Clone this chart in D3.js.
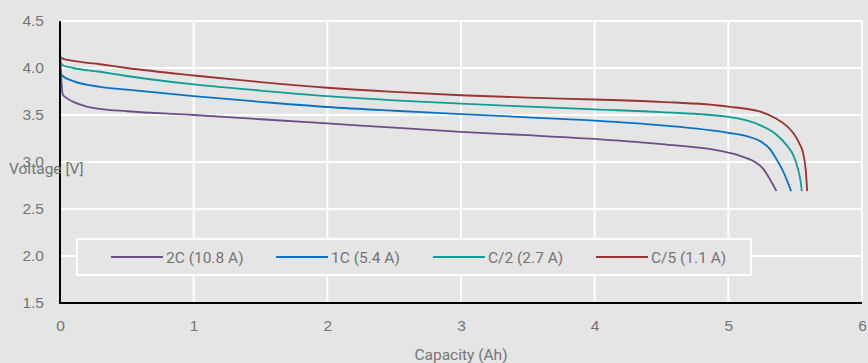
<!DOCTYPE html>
<html>
<head>
<meta charset="utf-8">
<script src="https://cdn.jsdelivr.net/npm/d3@7"></script>
<style>
  body { margin: 0; background: #e5e5e5; }
  svg { display: block; font-family: Roboto, "Noto Sans", sans-serif; }
  .tick-label { fill: #747474; font-size: 15.5px; }
  .axis-title { fill: #747474; font-size: 15.5px; }
  .legend-text { fill: #747474; font-size: 15.5px; }
</style>
</head>
<body>
<svg id="chart" width="868" height="363"></svg>
<script>
// series names and colours
const seriesNames = ["2C (10.8 A)", "1C (5.4 A)", "C/2 (2.7 A)", "C/5 (1.1 A)"];
const seriesColors = ["#6a4f88", "#0a72c6", "#0f9e97", "#9a3434"];

// capacity (Ah) and voltage (V)
const cap2C  = [0, 0.02, 0.05, 0.1, 0.2, 0.3, 0.5, 1, 1.5, 2, 2.5, 3, 3.5, 4, 4.5, 5, 5.1, 5.2, 5.26, 5.31, 5.36];
const volt2C = [4.19, 3.72, 3.68, 3.64, 3.59, 3.565, 3.54, 3.50, 3.455, 3.41, 3.365, 3.32, 3.285, 3.245, 3.19, 3.10, 3.06, 3.0, 2.93, 2.82, 2.69];

const cap1C  = [0, 0.02, 0.1, 0.3, 0.5, 1, 1.5, 2, 2.5, 3, 3.5, 4, 4.5, 5, 5.15, 5.24, 5.31, 5.36, 5.41, 5.44, 5.47];
const volt1C = [3.97, 3.915, 3.86, 3.80, 3.77, 3.70, 3.64, 3.585, 3.545, 3.51, 3.475, 3.44, 3.39, 3.31, 3.27, 3.22, 3.14, 3.03, 2.90, 2.80, 2.69];

const capC2  = [0, 0.02, 0.1, 0.3, 0.5, 1, 1.5, 2, 2.5, 3, 3.5, 4, 4.5, 5, 5.24, 5.36, 5.43, 5.49, 5.52, 5.54, 5.55];
const voltC2 = [4.07, 4.03, 4.0, 3.96, 3.915, 3.825, 3.76, 3.70, 3.655, 3.62, 3.59, 3.56, 3.53, 3.48, 3.39, 3.29, 3.19, 3.06, 2.93, 2.80, 2.69];

const capC5  = [0, 0.02, 0.1, 0.3, 0.5, 1, 1.5, 2, 2.5, 3, 3.5, 4, 4.5, 5, 5.24, 5.36, 5.44, 5.49, 5.53, 5.56, 5.58, 5.59];
const voltC5 = [4.12, 4.10, 4.075, 4.04, 4.0, 3.92, 3.85, 3.79, 3.745, 3.71, 3.685, 3.665, 3.64, 3.59, 3.535, 3.46, 3.38, 3.30, 3.20, 3.09, 2.90, 2.69];

const xTicks = [0, 1, 2, 3, 4, 5, 6];
const yTicks = [1.5, 2.0, 2.5, 3.0, 3.5, 4.0, 4.5];

const seriesCaps = [cap2C, cap1C, capC2, capC5];
const seriesVolts = [volt2C, volt1C, voltC2, voltC5];

const svg = d3.select("#chart");
const width = 868, height = 363;
const margin = { top: 21, right: 6, bottom: 60, left: 60 };
const innerWidth = width - margin.left - margin.right;
const innerHeight = height - margin.top - margin.bottom;

const xScale = d3.scaleLinear().domain([0, 6]).range([0, innerWidth]);
const yScale = d3.scaleLinear().domain([1.5, 4.5]).range([innerHeight, 0]);

svg.append("rect").attr("width", width).attr("height", height).attr("fill", "#e5e5e5");

const g = svg.append("g").attr("transform", `translate(${margin.left},${margin.top})`);

// grid
g.append("g").selectAll("line").data(xTicks.slice(1)).join("line")
  .attr("x1", d => xScale(d)).attr("x2", d => xScale(d))
  .attr("y1", 0).attr("y2", innerHeight)
  .attr("stroke", "#fff").attr("stroke-width", 2);
g.append("g").selectAll("line").data(yTicks.slice(1)).join("line")
  .attr("x1", 0).attr("x2", innerWidth)
  .attr("y1", d => yScale(d)).attr("y2", d => yScale(d))
  .attr("stroke", "#fff").attr("stroke-width", 2);

// axes
const xAxis = d3.axisBottom(xScale).tickValues(xTicks).tickSize(0).tickPadding(17).tickFormat(d3.format("d"));
const yAxis = d3.axisLeft(yScale).tickValues(yTicks).tickSize(0).tickPadding(16).tickFormat(d3.format(".1f"));

const xAxisG = g.append("g").attr("transform", `translate(0,${innerHeight})`).call(xAxis);
const yAxisG = g.append("g").call(yAxis);
[xAxisG, yAxisG].forEach(a => {
  a.select(".domain").remove();
  a.selectAll("text").attr("class", "tick-label").attr("font-family", null).attr("font-size", null);
});

// legend box
const legend = g.append("g");
legend.append("rect")
  .attr("x", 17).attr("y", 218).attr("width", 674).attr("height", 36)
  .attr("fill", "#e5e5e5").attr("stroke", "#fff").attr("stroke-width", 2);

const legendX = [51, 216, 373, 536];
seriesNames.forEach((name, i) => {
  legend.append("line")
    .attr("x1", legendX[i]).attr("x2", legendX[i] + 52)
    .attr("y1", 236).attr("y2", 236)
    .attr("stroke", seriesColors[i]).attr("stroke-width", 2);
  legend.append("text").attr("class", "legend-text")
    .attr("x", legendX[i] + 55).attr("y", 241.5)
    .text(name);
});

// curves
const lineGenerator = d3.line()
  .x(d => xScale(d[0]))
  .y(d => yScale(d[1]))
  .curve(d3.curveMonotoneX);

seriesCaps.forEach((caps, i) => {
  const pts = caps.map((c, j) => [c, seriesVolts[i][j]]);
  g.append("path")
    .attr("d", lineGenerator(pts))
    .attr("fill", "none")
    .attr("stroke", seriesColors[i])
    .attr("stroke-width", 1.8);
});

// axis lines
g.append("line").attr("x1", 0).attr("x2", 0).attr("y1", 0).attr("y2", innerHeight)
  .attr("stroke", "#000").attr("stroke-width", 2);
g.append("line").attr("x1", -1).attr("x2", innerWidth).attr("y1", innerHeight).attr("y2", innerHeight)
  .attr("stroke", "#000").attr("stroke-width", 2);

// axis titles
svg.append("text").attr("class", "axis-title")
  .attr("x", 9).attr("y", 174).text("Voltage [V]");
svg.append("text").attr("class", "axis-title")
  .attr("x", xScale(3) + margin.left).attr("y", 360).attr("text-anchor", "middle").text("Capacity (Ah)");
</script>
</body>
</html>
